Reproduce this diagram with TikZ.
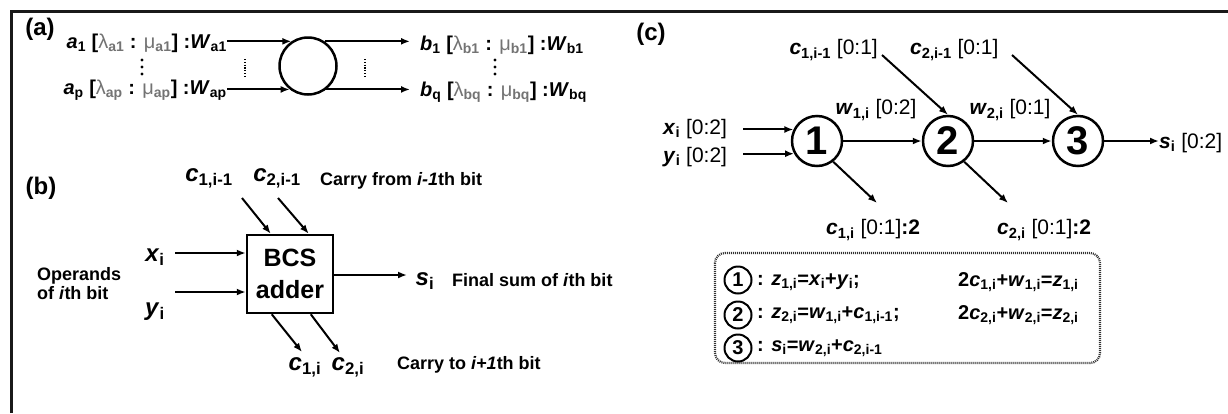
\documentclass[tikz,border=0pt]{standalone}
\usepackage{fontspec}
\setmainfont{Liberation Sans}
\usetikzlibrary{arrows.meta}
\newcommand\bv[1]{\textbf{\textit{#1}}}
\newcommand\lo[1]{\textsubscript{\bfseries #1}}
\newcommand\gr[1]{{\mdseries\color{black!55}#1}}
\begin{document}
\begin{tikzpicture}[x=1pt,y=-1pt,
  arr/.style={-{Latex[length=9pt,width=7pt]}, line width=2pt},
  lbl/.style={inner sep=0pt, font=\bfseries\fontsize{24}{28}\selectfont},
  ta/.style={inner sep=0pt, font=\bfseries\fontsize{20}{24}\selectfont},
  tv/.style={inner sep=0pt, font=\bfseries\fontsize{24}{28}\selectfont},
  td/.style={inner sep=0pt, font=\bfseries\fontsize{18}{19}\selectfont},
  tc/.style={inner sep=0pt, font=\fontsize{21}{24}\selectfont},
  te/.style={inner sep=0pt, font=\bfseries\fontsize{20}{24}\selectfont},
  circ/.style={draw, circle, line width=2.5pt, minimum size=50pt, inner sep=0pt, font=\bfseries\fontsize{40}{40}\selectfont},
  scirc/.style={draw, circle, line width=2pt, minimum size=27pt, inner sep=0pt, font=\bfseries\fontsize{20}{20}\selectfont},
  vdots/.style={line width=2.4pt, dash pattern=on 1.2pt off 1.6pt}]
\useasboundingbox (0,0) rectangle (1228,413);
\fill[white] (0,0) rectangle (1228,413);
\draw[line width=3pt, black!90] (11,413) -- (11,11) -- (1228,11);

% ---------- (a)
\node[lbl] (pa) at (40,29) {(a)};
\node[ta, anchor=east] (a1) at (227,43) {\bv{a}\lo{1} [\gr{λ\lo{a1}} : \gr{μ\lo{a1}}] :\bv{W}\lo{a1}};
\node[ta, anchor=east] (ap) at (227,90) {\bv{a}\lo{p} [\gr{λ\lo{ap}} : \gr{μ\lo{ap}}] :\bv{W}\lo{ap}};
\node[draw, circle, line width=2.5pt, minimum size=57pt, inner sep=0pt] (ca) at (308,66) {};
\node[ta, anchor=west] (b1) at (420,45) {\bv{b}\lo{1} [\gr{λ\lo{b1}} : \gr{μ\lo{b1}}] :\bv{W}\lo{b1}};
\node[ta, anchor=west] (bq) at (420,92) {\bv{b}\lo{q} [\gr{λ\lo{bq}} : \gr{μ\lo{bq}}] :\bv{W}\lo{bq}};
\draw[arr] (ca.124 -| a1.east) -- (ca.124);
\draw[arr] (ca.-128 -| ap.east) -- (ca.-128);
\draw[arr] (ca.56) -- ([xshift=-10pt]b1.west |- ca.56);
\draw[arr] (ca.-52) -- ([xshift=-10pt]bq.west |- ca.-52);
\draw[vdots] (245,59) -- (245,77);
\draw[vdots] (365,59) -- (365,77);
\foreach \yy in {60,67,74} {\fill (142,\yy) circle (1.7); \fill (495,\yy) circle (1.7);}

% ---------- (b)
\node[lbl] (pb) at (41,188) {(b)};
\node[tv] (c1p) at (209,178) {\bv{c}\lo{1,i-1}};
\node[tv] (c2p) at (277,178) {\bv{c}\lo{2,i-1}};
\node[td, anchor=west] (cf) at (320,181) {Carry from \textit{i-1}th bit};
\node[draw, line width=2.5pt, minimum width=86pt, minimum height=78pt, inner sep=0pt, align=center, font=\bfseries\fontsize{25}{32}\selectfont] (bcs) at (290,274) {BCS\\adder};
\node[tv] (xb) at (155,257) {\bv{x}\lo{i}};
\node[tv] (yb) at (155,312) {\bv{y}\lo{i}};
\coordinate (xbs) at (175,253);
\coordinate (ybs) at (175,292);
\draw[arr] (xbs) -- (xbs -| bcs.west);
\draw[arr] (ybs) -- (ybs -| bcs.west);
\node[td, anchor=west, align=left] (ops) at (37,284) {Operands\\of \textit{i}th bit};
\coordinate (sbo) at (407,275);
\draw[arr] (sbo -| bcs.east) -- (sbo);
\node[tv] (sb) at (425,281) {\bv{s}\lo{i}};
\node[td, anchor=west] (fs) at (452,280) {Final sum of \textit{i}th bit};
\coordinate (c1ps) at (242,198);
\coordinate (c2ps) at (278,198);
\draw[arr] (c1ps) -- ([xshift=25pt]bcs.north west);
\draw[arr] (c2ps) -- ([xshift=63pt]bcs.north west);
\coordinate (c1e) at (302,352);
\coordinate (c2e) at (340,353);
\draw[arr] ([xshift=26pt]bcs.south west) -- (c1e);
\draw[arr] ([xshift=65pt]bcs.south west) -- (c2e);
\node[tv] (c1b) at (305,367) {\bv{c}\lo{1,i}};
\node[tv] (c2b) at (348,367) {\bv{c}\lo{2,i}};
\node[td, anchor=west] (ct) at (397,365) {Carry to \textit{i+1}th bit};

% ---------- (c)
\node[lbl] (pc) at (651,34) {(c)};
\node[tc, anchor=east] (c1m) at (878,50) {\bv{c}\lo{1,i-1} [0:1]};
\node[tc, anchor=west] (c2m) at (910,50) {\bv{c}\lo{2,i-1} [0:1]};
\node[circ] (n1) at (817,141) {1};
\node[circ] (n2) at (948,141) {2};
\node[circ] (n3) at (1078,141) {3};
\node[tc, anchor=west] (xc) at (663,129) {\bv{x}\lo{i} [0:2]};
\node[tc, anchor=west] (yc) at (663,157) {\bv{y}\lo{i} [0:2]};
\coordinate (xcs) at (743,130);
\coordinate (ycs) at (743,153);
\draw[arr] (n1.154 -| xcs) -- (n1.154);
\draw[arr] (n1.-151 -| ycs) -- (n1.-151);
\draw[arr] (n1) -- (n2);
\draw[arr] (n2) -- (n3);
\node[tc, anchor=west] (sc) at (1159,143) {\bv{s}\lo{i} [0:2]};
\draw[arr] (n3.east) -- (n3.east -| sc.west);
\node[tc] (w1) at (876,110) {\bv{w}\lo{1,i} [0:2]};
\node[tc] (w2) at (1010,110) {\bv{w}\lo{2,i} [0:1]};
\coordinate (c1ms) at (882,55);
\coordinate (c2ms) at (1012,55);
\draw[arr] (c1ms) -- (n2.north);
\draw[arr] (c2ms) -- (n3.north);
\coordinate (c1ce) at (877,203);
\coordinate (c2ce) at (1008,203);
\draw[arr] (n1.-52) -- (c1ce);
\draw[arr] (n2.-52) -- (c2ce);
\node[tc, anchor=west] (c1c) at (826,230) {\bv{c}\lo{1,i} [0:1]\textbf{:2}};
\node[tc, anchor=west] (c2c) at (997,230) {\bv{c}\lo{2,i} [0:1]\textbf{:2}};

\draw[line width=2.2pt, black!80, dash pattern=on 1pt off 1pt, rounded corners=10pt] (715,253) rectangle (1100,363);
\node[scirc] (k1) at (738,280) {1};
\node[scirc] (k2) at (738,315) {2};
\node[scirc] (k3) at (738,348) {3};
\node[te, anchor=west] (e1) at (757,282) {: \bv{z}\lo{1,i}=\bv{x}\lo{i}+\bv{y}\lo{i};};
\node[te, anchor=west] (e1r) at (958,282) {2\bv{c}\lo{1,i}+\bv{w}\lo{1,i}=\bv{z}\lo{1,i}};
\node[te, anchor=west] (e2) at (757,315) {: \bv{z}\lo{2,i}=\bv{w}\lo{1,i}+\bv{c}\lo{1,i-1};};
\node[te, anchor=west] (e2r) at (958,315) {2\bv{c}\lo{2,i}+\bv{w}\lo{2,i}=\bv{z}\lo{2,i}};
\node[te, anchor=west] (e3) at (757,348) {: \bv{s}\lo{i}=\bv{w}\lo{2,i}+\bv{c}\lo{2,i-1}};
\end{tikzpicture}
\end{document}
